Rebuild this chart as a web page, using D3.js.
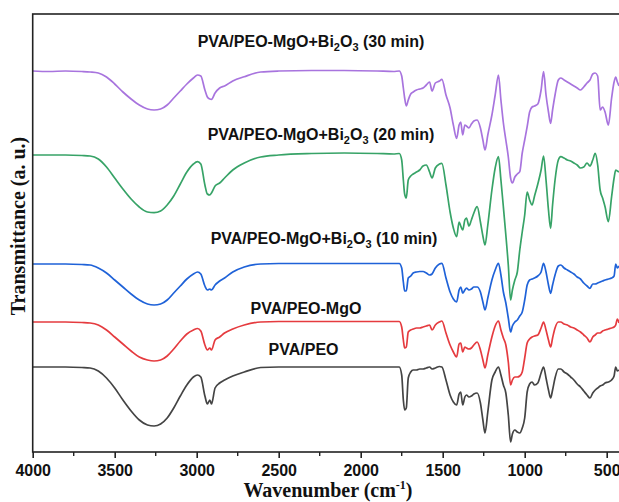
<!DOCTYPE html>
<html>
<head>
<meta charset="utf-8">
<script src="https://cdn.jsdelivr.net/npm/d3@7"></script>
<style>
  body { margin: 0; background: #fff; }
  svg { display: block; }
</style>
</head>
<body>
<div id="chart"></div>
<script>
// wavenumber grid (cm-1), shared by all spectra
const wavenumbers = [
  4000, 3900, 3800, 3700, 3650, 3600, 3550, 3500, 3450, 3400,
  3350, 3300, 3260, 3220, 3180, 3140, 3100, 3060, 3020, 2995,
  2975, 2950, 2935, 2920, 2910, 2888, 2860, 2830, 2780, 2710,
  2610,
  2500, 2300, 2100, 1900, 1800, 1765, 1750, 1740, 1732, 1722,
  1710, 1695, 1680, 1660, 1640, 1620, 1600, 1580, 1565, 1545,
  1520, 1505,
  1480, 1455, 1435, 1415, 1400, 1390, 1378, 1365, 1355, 1340,
  1325, 1310, 1290, 1270, 1255, 1242, 1225, 1200, 1180, 1160,
  1145, 1130, 1115, 1100, 1086, 1075, 1060, 1045, 1030, 1015,
  1000,
  985, 970, 955, 940, 920, 900, 885, 870, 855, 842,
  830, 815, 795, 780, 760, 740, 720, 700, 680, 660,
  640, 620, 602, 585, 570, 555, 540, 525, 510, 490,
  470, 455, 445, 435, 425
];

// transmittance (a. u., spectra stacked)
const pvaPeo = [
  85, 85, 85, 84.5, 84, 81, 74, 64, 52, 41,
  32, 27, 26, 28, 34, 44, 56, 67, 75, 77,
  75, 56, 48, 52, 48, 64, 69, 72, 76, 80,
  84.5,
  85, 85, 85, 85, 85, 85, 77, 52, 42, 44,
  74, 80, 82, 82, 83, 83, 84, 85, 83, 84,
  85.5, 85,
  72, 57, 50, 47, 58, 60, 47, 55, 57, 55,
  56, 58, 59, 49, 32, 19, 40, 72, 80, 85,
  77, 67, 59, 37, 10, 18, 22, 20, 19, 24,
  34,
  60, 68, 70, 67, 69, 79, 85, 74, 62, 54,
  62, 74, 83, 83, 80, 78, 75, 72, 68, 65,
  61, 57, 54, 59, 62, 64, 66, 67, 69, 70,
  72, 76, 85, 81, 82
];

const pvaPeoMgo = [
  130, 130, 130, 129.5, 129, 127, 122, 115, 108, 101,
  95, 92, 91, 92, 96, 103, 111, 118, 122, 123.5,
  121, 107, 102, 104, 102, 112, 115, 119, 123, 127,
  130,
  130.5, 130.5, 130.5, 130.5, 130.5, 130.5, 125, 112, 104, 105,
  120, 122, 123, 124, 124, 125, 126, 127, 122, 127,
  130, 131,
  119, 107, 100, 95, 108, 109, 100, 105, 104, 103,
  104, 107, 110, 102, 92, 84, 97, 115, 126, 131,
  122, 114, 107, 90, 67, 72, 75, 75, 76, 80,
  94,
  109, 113, 115, 116, 117, 124, 130, 122, 112, 105,
  114, 124, 130, 130, 128, 127, 125, 124, 122, 120,
  117, 114, 110, 115, 117, 119, 119, 121, 122, 123,
  124, 125, 127, 133, 129
];

const bi10 = [
  188, 188, 188, 187.5, 187, 184, 179, 172, 165, 158,
  152, 148, 147, 148, 152, 159, 166, 173, 178, 180,
  178, 166, 162, 163, 162, 167, 171, 174, 180, 185,
  188,
  188.5, 188.5, 188.5, 188.5, 188.5, 188.5, 184, 170, 161, 161,
  174, 176, 179, 180, 180.5, 180.5, 179, 177, 178, 184,
  188, 188.7,
  174, 160, 153, 150, 162, 165, 159, 162, 164, 162,
  163, 165, 165, 160, 150, 142, 154, 172, 182, 188.7,
  177, 160, 149, 134, 120, 126, 130, 132, 136, 140,
  152,
  167, 172, 173, 174, 176, 180, 188.7, 180, 167, 158.7,
  167, 177, 186, 187, 184, 182, 180, 178, 175, 173,
  169, 166, 163.7, 168, 168, 169, 170, 171, 172, 173,
  174, 176, 188, 184, 186
];

const bi20 = [
  297, 297, 297, 296.5, 296, 293, 285, 274, 263, 253,
  245, 240, 239.3, 241, 247, 256, 268, 280, 288, 290.3,
  288, 267, 258, 257, 259, 266, 269, 274, 282, 289,
  295,
  297, 298.5, 299, 298.5, 298, 298.5, 292, 272, 258, 254,
  272, 276, 278, 280, 282, 286, 287, 280, 274, 284,
  288, 288.7,
  267, 240, 224, 215.3, 230, 226, 222, 232, 234, 226,
  232, 239, 245.3, 230, 216, 207, 227, 262, 284, 295.3,
  272, 245, 217, 187, 152, 162, 172, 180, 202, 220,
  237,
  260, 252, 247, 256, 268, 282, 296, 272, 242, 223.7,
  247, 272, 292, 295.3, 294, 292, 291, 289, 287, 284,
  285, 289, 286, 292, 298.7, 287, 262, 254, 245.3, 230.3,
  255.3, 274, 282, 281, 280
];

const bi30 = [
  381, 380.5, 381, 380.5, 380, 379, 375, 368, 360, 353,
  347, 343, 342, 343, 347, 354, 361, 368, 374, 377,
  376, 362, 355, 353, 352.7, 359, 364, 366, 371, 375.3,
  380,
  381, 381.5, 381.5, 381, 380.5, 381, 376, 364, 354, 346,
  352, 358, 360, 362, 363, 364, 367, 370, 361, 369,
  371, 372.7,
  357, 344, 327, 313.7, 327, 330, 317, 327, 326, 324,
  328, 331, 332, 324, 312, 302, 317, 337, 357, 377,
  352, 329, 312, 295, 274, 269, 275, 278, 280.3, 299,
  312,
  325.3, 340, 345, 346, 348, 362, 380.3, 357, 340, 328.7,
  342, 357, 372, 374, 372, 370, 368, 366, 364, 362,
  365, 369, 372, 378, 379, 376, 342, 345, 340, 327,
  354, 370, 375, 370, 366
];

const xTicks = [4000, 3500, 3000, 2500, 2000, 1500, 1000, 500];
const xMinorTicks = [3750, 3250, 2750, 2250, 1750, 1250, 750];

const seriesNames = ["PVA/PEO", "PVA/PEO-MgO", "10 min", "20 min", "30 min"];
const seriesColors = ["#444444", "#e53b3f", "#1f62d8", "#37a367", "#a874de"];
const seriesValues = [pvaPeo, pvaPeoMgo, bi10, bi20, bi30];

const width = 619, height = 502;
const plotLeft = 32.7, plotTop = 14, plotBottom = 452;

const svg = d3.select("#chart")
  .append("svg")
  .attr("width", width)
  .attr("height", height);

// x axis reversed, as usual for FTIR
const x = d3.scaleLinear()
  .domain([4000, 500])
  .range([plotLeft, 606.7]);

const y = d3.scaleLinear()
  .domain([0, 438])
  .range([plotBottom, plotTop]);

svg.append("clipPath")
  .attr("id", "plotclip")
  .append("rect")
  .attr("x", plotLeft)
  .attr("y", plotTop)
  .attr("width", width - plotLeft)
  .attr("height", plotBottom - plotTop);

const line = d3.line()
  .x(d => x(d[0]))
  .y(d => y(d[1]))
  .curve(d3.curveMonotoneX);

const plot = svg.append("g").attr("clip-path", "url(#plotclip)");

seriesValues.forEach(function(vals, i) {
  const pts = wavenumbers.map((w, j) => [w, vals[j]]);
  plot.append("path")
    .datum(pts)
    .attr("fill", "none")
    .attr("stroke", seriesColors[i])
    .attr("stroke-width", 1.7)
    .attr("stroke-linejoin", "round")
    .attr("d", line);
});

// frame
svg.append("rect")
  .attr("x", plotLeft)
  .attr("y", plotTop)
  .attr("width", 640)
  .attr("height", plotBottom - plotTop)
  .attr("fill", "none")
  .attr("stroke", "#222")
  .attr("stroke-width", 1.6);

// bottom axis: major ticks with labels, minor ticks without
const xAxis = svg.append("g")
  .attr("transform", `translate(0, ${plotBottom})`)
  .call(d3.axisBottom(x)
    .tickValues(xTicks)
    .tickFormat(d3.format("d"))
    .tickSize(6)
    .tickSizeOuter(0)
    .tickPadding(7));

xAxis.select(".domain").remove();
xAxis.selectAll(".tick line").attr("stroke", "#222").attr("stroke-width", 1.6);
xAxis.selectAll(".tick text")
  .attr("fill", "#111")
  .style("font-family", "'Liberation Sans', Arial, sans-serif")
  .style("font-weight", "bold")
  .style("font-size", "16px");

svg.append("g")
  .selectAll("line")
  .data(xMinorTicks)
  .join("line")
  .attr("x1", d => x(d))
  .attr("x2", d => x(d))
  .attr("y1", plotBottom)
  .attr("y2", plotBottom + 4)
  .attr("stroke", "#222")
  .attr("stroke-width", 1.4);

// axis titles
const xTitle = svg.append("text")
  .attr("x", 328)
  .attr("y", 497)
  .attr("text-anchor", "middle")
  .style("font-family", "'Liberation Serif', 'Times New Roman', serif")
  .style("font-weight", "bold")
  .style("font-size", "20px")
  .attr("fill", "#111");
xTitle.append("tspan").text("Wavenumber (cm");
xTitle.append("tspan").attr("dy", -8).style("font-size", "12px").text("-1");
xTitle.append("tspan").attr("dy", 8).text(")");

svg.append("text")
  .attr("transform", "translate(25, 226) rotate(-90)")
  .attr("text-anchor", "middle")
  .style("font-family", "'Liberation Serif', 'Times New Roman', serif")
  .style("font-weight", "bold")
  .style("font-size", "20px")
  .attr("fill", "#111")
  .text("Transmittance (a. u.)");

// curve labels
const labels = [
  {x: 311, y: 47, min: "30 min"},
  {x: 321, y: 140, min: "20 min"},
  {x: 324, y: 243.5, min: "10 min"}
];

labels.forEach(function(l) {
  const t = svg.append("text")
    .attr("x", l.x)
    .attr("y", l.y)
    .attr("text-anchor", "middle")
    .style("font-family", "'Liberation Sans', Arial, sans-serif")
    .style("font-weight", "bold")
    .style("font-size", "16px")
    .attr("fill", "#111");
  t.append("tspan").text("PVA/PEO-MgO+Bi");
  t.append("tspan").attr("dy", 4).style("font-size", "11px").text("2");
  t.append("tspan").attr("dy", -4).text("O");
  t.append("tspan").attr("dy", 4).style("font-size", "11px").text("3");
  t.append("tspan").attr("dy", -4).text(" (" + l.min + ")");
});

svg.append("text")
  .attr("x", 306)
  .attr("y", 313.5)
  .attr("text-anchor", "middle")
  .style("font-family", "'Liberation Sans', Arial, sans-serif")
  .style("font-weight", "bold")
  .style("font-size", "16px")
  .attr("fill", "#111")
  .text(seriesNames[1]);

svg.append("text")
  .attr("x", 303.6)
  .attr("y", 354.5)
  .attr("text-anchor", "middle")
  .style("font-family", "'Liberation Sans', Arial, sans-serif")
  .style("font-weight", "bold")
  .style("font-size", "16px")
  .attr("fill", "#111")
  .text(seriesNames[0]);
</script>
</body>
</html>
